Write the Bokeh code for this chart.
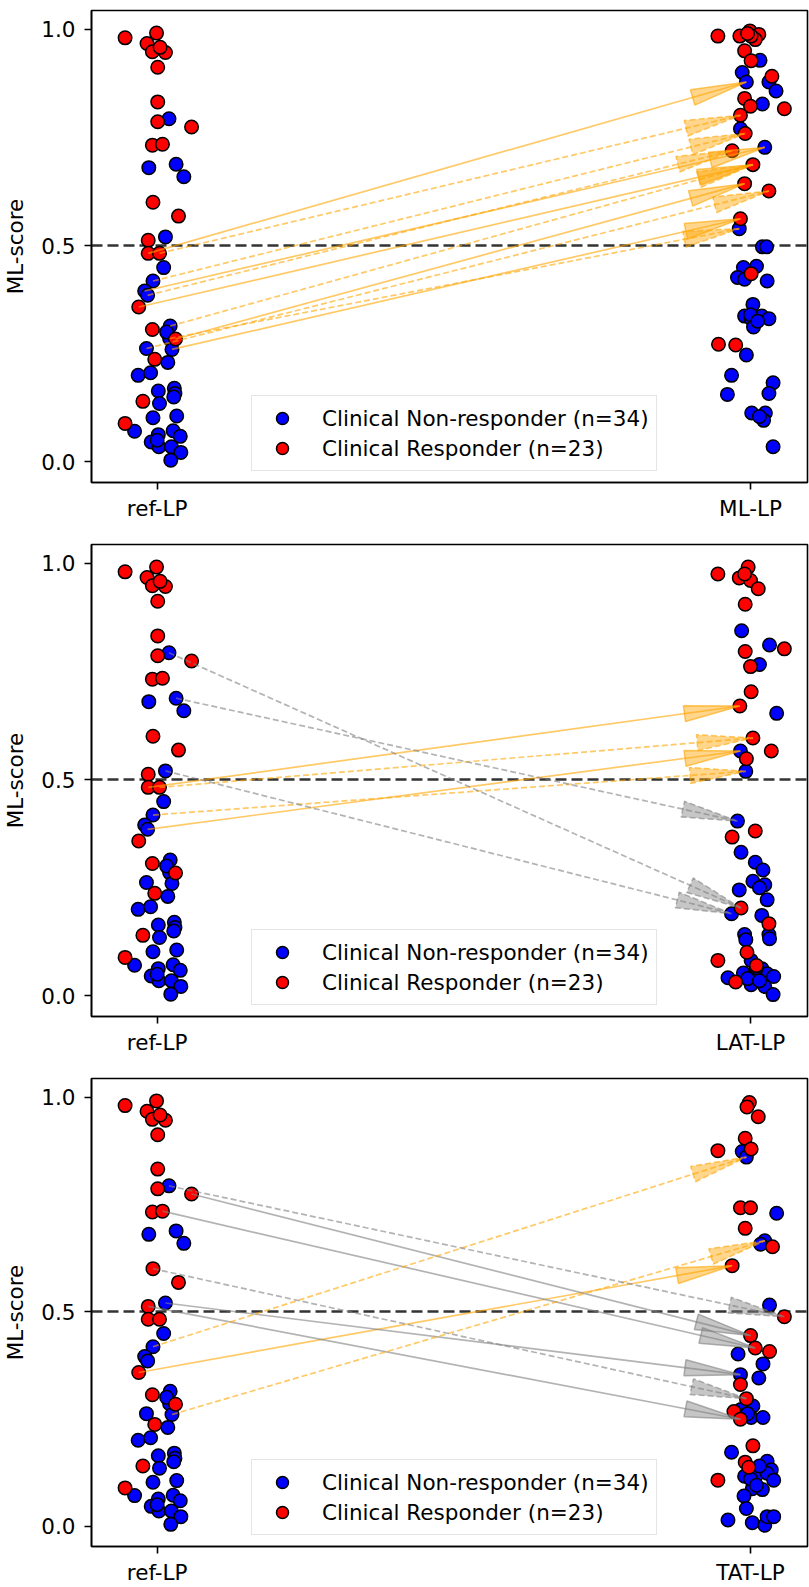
import numpy as np
from bokeh.plotting import figure
from bokeh.models import (Range1d, FixedTicker, Span, Legend, LegendItem,
                          ColumnDataSource, PrintfTickFormatter)
from bokeh.layouts import column
from bokeh.embed import file_html
from bokeh.resources import INLINE

# ---------------- data ----------------
categories = ["ref-LP", "ML-LP", "LAT-LP", "TAT-LP"]
legend_labels = ["Clinical Non-responder (n=34)", "Clinical Responder (n=23)"]

ref_blue_x = [0.020, -0.014, 0.032, 0.045, 0.014, 0.011, -0.007, -0.021, -0.016, 0.022, 0.021, -0.018,
              0.025, 0.018, -0.032, -0.011, 0.002, 0.029, 0.030, 0.004, -0.007, 0.033, -0.038, 0.002,
              0.027, 0.039, -0.010, 0.003, 0.024, 0.040, 0.023, 0.000, 0.028, 0.016]
ref_blue_y = [0.793, 0.680, 0.688, 0.659, 0.520, 0.449, 0.418, 0.395, 0.385, 0.314, 0.285, 0.262,
              0.260, 0.230, 0.200, 0.206, 0.164, 0.170, 0.158, 0.135, 0.102, 0.106, 0.071, 0.063,
              0.072, 0.059, 0.046, 0.035, 0.035, 0.022, 0.004, 0.050, 0.150, 0.300]
ref_red_x = [-0.054, -0.001, -0.017, -0.008, 0.014, 0.001, 0.001, 0.001, 0.058, -0.008, 0.009, -0.007,
             0.036, -0.015, -0.015, 0.004, -0.031, -0.008, 0.031, -0.004, -0.024, -0.054, 0.005]
ref_red_y = [0.980, 0.991, 0.967, 0.948, 0.946, 0.912, 0.832, 0.786, 0.774, 0.732, 0.734, 0.600,
             0.568, 0.512, 0.482, 0.482, 0.358, 0.306, 0.284, 0.237, 0.140, 0.089, 0.958]

ml_blue_x = [1.016, 0.986, 0.993, 1.031, 1.043, 1.020, 0.983, 1.024, 0.981, 1.020, 1.027, 0.988,
             1.010, 0.978, 0.990, 1.028, 1.004, 0.990, 1.001, 1.019, 1.031, 1.005, 0.993, 0.968,
             1.038, 1.031, 0.961, 1.002, 1.025, 1.022, 1.038, 1.000, 1.012, 1.015]
ml_blue_y = [0.928, 0.900, 0.878, 0.878, 0.857, 0.827, 0.770, 0.727, 0.539, 0.497, 0.497, 0.449,
             0.452, 0.426, 0.422, 0.418, 0.364, 0.337, 0.331, 0.337, 0.331, 0.312, 0.247, 0.200,
             0.183, 0.158, 0.156, 0.113, 0.113, 0.096, 0.035, 0.340, 0.325, 0.105]
ml_red_x = [0.945, 0.982, 0.999, 1.014, 1.008, 1.001, 0.990, 1.001, 1.036, 0.990, 1.000, 1.057,
            0.983, 0.991, 0.969, 1.004, 0.990, 1.031, 0.983, 0.946, 0.975, 1.001, 0.995]
ml_red_y = [0.984, 0.984, 0.996, 0.988, 0.976, 0.984, 0.950, 0.927, 0.891, 0.840, 0.822, 0.816,
            0.801, 0.759, 0.719, 0.687, 0.643, 0.626, 0.562, 0.272, 0.270, 0.435, 0.990]

lat_blue_x = [0.985, 1.032, 1.015, 1.044, 0.983, 0.992, 0.978, 0.984, 1.008, 1.021, 1.004, 1.024,
              0.981, 1.028, 0.968, 1.019, 0.990, 0.992, 1.031, 1.032, 1.001, 0.988, 0.962, 1.019,
              1.028, 1.039, 1.001, 1.024, 1.038, 1.008, 1.010, 0.995, 1.015, 1.015]
lat_blue_y = [0.844, 0.811, 0.766, 0.653, 0.566, 0.519, 0.404, 0.332, 0.309, 0.291, 0.265, 0.257,
              0.245, 0.222, 0.190, 0.186, 0.142, 0.130, 0.142, 0.132, 0.082, 0.053, 0.042, 0.063,
              0.051, 0.045, 0.026, 0.022, 0.003, 0.055, 0.065, 0.040, 0.035, 0.250]
lat_red_x = [0.945, 0.981, 0.996, 1.000, 1.013, 0.991, 0.991, 1.057, 1.000, 1.001, 0.982, 1.004,
             1.035, 0.993, 1.008, 0.969, 0.984, 1.031, 0.994, 0.945, 0.975, 0.990, 1.010]
lat_red_y = [0.975, 0.966, 0.991, 0.960, 0.941, 0.905, 0.796, 0.802, 0.761, 0.703, 0.670, 0.596,
             0.566, 0.548, 0.381, 0.367, 0.203, 0.167, 0.101, 0.082, 0.032, 0.975, 0.070]

tat_blue_x = [0.986, 0.993, 1.044, 1.024, 1.017, 1.032, 0.979, 1.021, 0.983, 1.014, 1.004, 0.984,
              1.001, 1.021, 0.968, 1.028, 1.035, 0.990, 1.010, 1.028, 1.039, 1.003, 1.020, 0.989,
              0.993, 0.962, 1.003, 1.024, 1.028, 1.039, 1.000, 1.015, 0.995, 1.010]
tat_blue_y = [0.873, 0.860, 0.729, 0.665, 0.657, 0.515, 0.401, 0.378, 0.353, 0.345, 0.280, 0.272,
              0.253, 0.253, 0.172, 0.151, 0.131, 0.116, 0.119, 0.123, 0.107, 0.087, 0.085, 0.070,
              0.041, 0.014, 0.008, 0.002, 0.022, 0.022, 0.110, 0.140, 0.262, 0.095]
tat_red_x = [0.998, 0.994, 1.013, 0.991, 1.001, 0.945, 0.983, 1.000, 0.991, 1.037, 0.969, 1.057,
             1.000, 1.008, 1.032, 0.983, 0.993, 0.972, 0.983, 1.004, 0.991, 0.997, 0.945]
tat_red_y = [0.987, 0.977, 0.954, 0.904, 0.879, 0.875, 0.742, 0.742, 0.694, 0.651, 0.607, 0.488,
             0.444, 0.415, 0.407, 0.330, 0.297, 0.267, 0.249, 0.187, 0.149, 0.137, 0.107]

# arrows: start (ref-LP) -> end (other column), dashed flag
ml_arrow_x0 = [-0.015, 0.004, -0.007, -0.021, -0.016, -0.031, 0.022, 0.031, -0.018, 0.025, 0.021]
ml_arrow_y0 = [0.482, 0.482, 0.418, 0.395, 0.385, 0.358, 0.314, 0.284, 0.262, 0.260, 0.285]
ml_arrow_x1 = [0.993, 0.983, 0.991, 1.024, 0.969, 1.004, 1.004, 0.990, 1.031, 0.983, 0.981]
ml_arrow_y1 = [0.878, 0.801, 0.759, 0.727, 0.719, 0.687, 0.687, 0.643, 0.626, 0.562, 0.539]
ml_arrow_dash = [False, True, True, False, True, False, True, False, True, False, True]

lat_arrow_x0 = [-0.015, 0.004, -0.016, -0.007, 0.020, 0.032, 0.014]
lat_arrow_y0 = [0.482, 0.482, 0.385, 0.418, 0.793, 0.688, 0.520]
lat_arrow_x1 = [0.982, 1.004, 0.983, 0.992, 0.984, 0.978, 0.968]
lat_arrow_y1 = [0.670, 0.596, 0.566, 0.519, 0.203, 0.404, 0.190]
lat_arrow_dash = [False, True, False, True, True, True, True]

tat_arrow_x0 = [-0.007, -0.031, 0.025, 0.020, 0.058, 0.009, -0.007, 0.014, -0.015]
tat_arrow_y0 = [0.418, 0.358, 0.260, 0.793, 0.774, 0.734, 0.600, 0.520, 0.512]
tat_arrow_x1 = [0.993, 0.969, 1.024, 1.057, 1.000, 1.008, 0.993, 0.983, 0.983]
tat_arrow_y1 = [0.860, 0.607, 0.665, 0.488, 0.444, 0.415, 0.297, 0.353, 0.249]
tat_arrow_dash = [True, False, True, True, False, False, True, False, False]

# ---------------- styling ----------------
FONT = "DejaVu Sans"
FS = "21.5px"
X0, X1 = -0.1106, 1.096
Y0, Y1 = -0.0476, 1.0432
FRAME_W = 717


def head_polys(x0, y0, x1, y1, sx, sy, L=56.0, W=16.0):
    xs, ys = [], []
    for a, b, c, d in zip(x0, y0, x1, y1):
        dx, dy = (c - a) * sx, (d - b) * sy
        n = np.hypot(dx, dy)
        ux, uy = dx / n, dy / n
        bx, by = -L * ux, -L * uy
        qx, qy = -uy * W / 2, ux * W / 2
        xs.append([c, c + (bx + qx) / sx, c + (bx - qx) / sx])
        ys.append([d, d + (by + qy) / sy, d + (by - qy) / sy])
    return xs, ys


def make_panel(other_label, bx, by, rx, ry, ax0, ay0, ax1, ay1, adash, height, bottom, frame_h):
    p = figure(width=809, height=height, x_range=Range1d(X0, X1), y_range=Range1d(Y0, Y1),
               output_backend="svg", toolbar_location=None,
               min_border_left=90, min_border_right=2, min_border_top=10, min_border_bottom=bottom)
    p.xgrid.visible = False
    p.ygrid.visible = False
    p.outline_line_color = "black"
    p.outline_line_width = 1.6
    p.outline_line_alpha = 1.0
    p.background_fill_color = "white"
    p.border_fill_color = "white"

    for ax in (p.xaxis[0], p.yaxis[0]):
        ax.axis_line_color = "black"
        ax.axis_line_width = 1.6
        ax.major_tick_line_color = "black"
        ax.major_tick_line_width = 1.6
        ax.major_tick_out = 7
        ax.major_tick_in = 0
        ax.minor_tick_line_color = None
        ax.major_label_text_font = FONT
        ax.major_label_text_font_size = FS
        ax.major_label_text_color = "black"
    p.xaxis.major_label_standoff = 6
    p.yaxis.major_label_standoff = 9

    p.xaxis.ticker = FixedTicker(ticks=[0, 1])
    p.xaxis.major_label_overrides = {0: categories[0], 1: other_label}
    p.yaxis.ticker = FixedTicker(ticks=[0.0, 0.5, 1.0])
    p.yaxis.formatter = PrintfTickFormatter(format="%.1f")
    p.yaxis.axis_label = "ML-score"
    p.yaxis.axis_label_text_font = FONT
    p.yaxis.axis_label_text_font_size = FS
    p.yaxis.axis_label_text_font_style = "normal"
    p.yaxis.axis_label_text_color = "black"
    p.yaxis.axis_label_standoff = 10

    p.add_layout(Span(location=0.5, dimension="width", line_color="#333333",
                      line_dash="11 5", line_width=2.5, level="underlay"))

    blue_r = p.scatter(ref_blue_x + bx, ref_blue_y + by, size=13.5, marker="circle",
                       fill_color="#0000ff", line_color="black", line_width=1.5)
    red_r = p.scatter(ref_red_x + rx, ref_red_y + ry, size=13.5, marker="circle",
                      fill_color="#ff0000", line_color="black", line_width=1.5)

    sx = FRAME_W / (X1 - X0)
    sy = frame_h / (Y1 - Y0)
    hx, hy = head_polys(ax0, ay0, ax1, ay1, sx, sy)
    colors = ["#ffa500" if e > s else "#808080" for s, e in zip(ay0, ay1)]
    for dashed in (False, True):
        idx = [i for i, d in enumerate(adash) if d == dashed]
        if not idx:
            continue
        src = ColumnDataSource(dict(
            x0=[ax0[i] for i in idx], y0=[ay0[i] for i in idx],
            x1=[ax1[i] for i in idx], y1=[ay1[i] for i in idx],
            hx=[hx[i] for i in idx], hy=[hy[i] for i in idx],
            c=[colors[i] for i in idx]))
        dash = "6 3" if dashed else "solid"
        p.segment("x0", "y0", "x1", "y1", source=src, line_color="c", line_alpha=0.6,
                  line_width=1.7, line_dash=dash)
        p.patches("hx", "hy", source=src, fill_color="c", fill_alpha=0.45,
                  line_color="c", line_alpha=0.6, line_width=1.5, line_dash=dash)

    legend = Legend(items=[LegendItem(label=legend_labels[0], renderers=[blue_r]),
                           LegendItem(label=legend_labels[1], renderers=[red_r])],
                    location=(160, 11))
    legend.label_text_font = FONT
    legend.label_text_font_size = FS
    legend.label_text_color = "black"
    legend.padding = 7
    legend.spacing = 0
    legend.margin = 0
    legend.glyph_width = 46
    legend.glyph_height = 30
    legend.label_height = 30
    legend.label_standoff = 17
    legend.border_line_color = "#cccccc"
    legend.border_line_width = 1.5
    legend.background_fill_alpha = 0.8
    p.add_layout(legend)
    return p


p1 = make_panel(categories[1], ml_blue_x, ml_blue_y, ml_red_x, ml_red_y,
                ml_arrow_x0, ml_arrow_y0, ml_arrow_x1, ml_arrow_y1, ml_arrow_dash, 534, 52, 472)
p2 = make_panel(categories[2], lat_blue_x, lat_blue_y, lat_red_x, lat_red_y,
                lat_arrow_x0, lat_arrow_y0, lat_arrow_x1, lat_arrow_y1, lat_arrow_dash, 534, 52, 472)
p3 = make_panel(categories[3], tat_blue_x, tat_blue_y, tat_red_x, tat_red_y,
                tat_arrow_x0, tat_arrow_y0, tat_arrow_x1, tat_arrow_y1, tat_arrow_dash, 519, 37, 468)

layout = column(p1, p2, p3, spacing=0)
open("out.html", "w").write(file_html(layout, INLINE))
